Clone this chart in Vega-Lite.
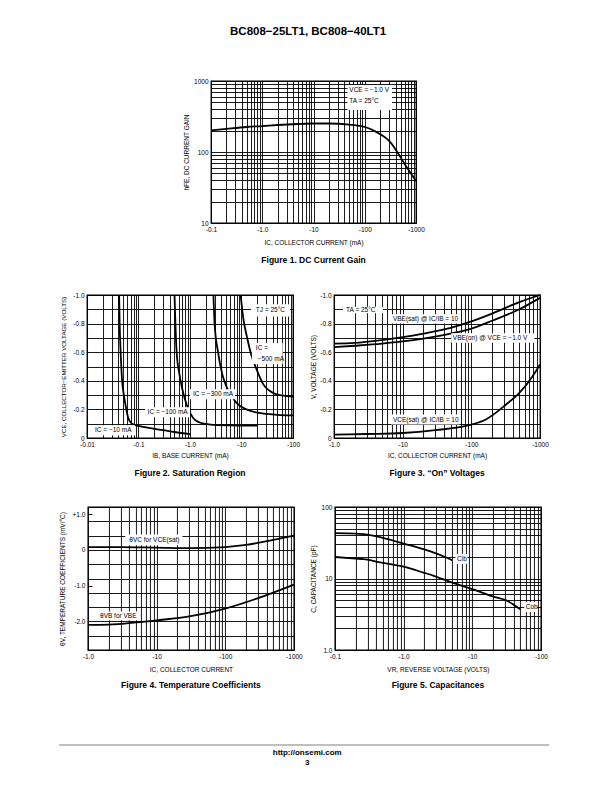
{
  "$schema": "https://vega.github.io/schema/vega-lite/v6.json",
  "background": "white",
  "padding": {"left": 58, "top": 25, "right": 5, "bottom": 5},
  "title": {"text": "BC808−25LT1, BC808−40LT1", "orient": "top", "fontSize": 11.5, "fontWeight": "bold", "font": "Liberation Sans", "anchor": "middle", "offset": 40, "dx": 4, "color": "#000"},
  "config": {
    "font": "Liberation Sans",
    "view": {"stroke": "#000", "strokeWidth": 1.3},
    "axis": {"grid": true, "gridColor": "#000", "gridWidth": 0.9, "gridOpacity": 1, "domain": false, "ticks": false, "tickCount": 60, "labelFont": "Liberation Sans", "labelFontSize": 6.5, "labelColor": "#000", "titleFont": "Liberation Sans", "titleFontSize": 6.5, "titleFontWeight": "normal", "titleColor": "#000", "labelPadding": 3, "labelOverlap": false, "labelSeparation": -40, "labelFlush": false, "labelBound": false},
    "axisX": {"titlePadding": 7},
    "axisY": {"titlePadding": 4},
    "title": {"fontSize": 8.5, "fontWeight": "bold", "font": "Liberation Sans", "color": "#000", "orient": "bottom", "anchor": "middle", "offset": 10},
    "line": {"color": "#000", "strokeWidth": 1.8, "interpolate": "monotone"}
  },
  "center": true,
  "spacing": 24,
  "vconcat": [
    {
      "width": 205, "height": 142,
      "title": {"text": "Figure 1. DC Current Gain"},
      "layer": [
        {
          "data": {"values": [
            {"ic": 0.1, "hfe": 202}, {"ic": 0.2, "hfe": 212}, {"ic": 0.5, "hfe": 225}, {"ic": 1, "hfe": 232},
            {"ic": 2, "hfe": 240}, {"ic": 5, "hfe": 248}, {"ic": 10, "hfe": 252}, {"ic": 20, "hfe": 252},
            {"ic": 50, "hfe": 243}, {"ic": 100, "hfe": 225}, {"ic": 150, "hfe": 200}, {"ic": 200, "hfe": 178},
            {"ic": 300, "hfe": 143}, {"ic": 500, "hfe": 84}, {"ic": 700, "hfe": 57}, {"ic": 1000, "hfe": 39}
          ]},
          "mark": "line",
          "encoding": {
            "x": {"field": "ic", "type": "quantitative", "scale": {"type": "log", "domain": [0.1, 1000], "nice": false},
              "axis": {"title": "IC, COLLECTOR CURRENT (mA)", "labelOverlap": false, "values": [0.1,0.2,0.3,0.4,0.5,0.6,0.7,0.8,0.9,1,2,3,4,5,6,7,8,9,10,20,30,40,50,60,70,80,90,100,200,300,400,500,600,700,800,900,1000],
                "labelExpr": "datum.value==0.1?'-0.1':datum.value==1?'-1.0':datum.value==10?'-10':datum.value==100?'-100':datum.value==1000?'-1000':''"}},
            "y": {"field": "hfe", "type": "quantitative", "scale": {"type": "log", "domain": [10, 1000], "nice": false},
              "axis": {"title": "hFE, DC CURRENT GAIN", "labelOverlap": false, "values": [10,20,30,40,50,60,70,80,90,100,200,300,400,500,600,700,800,900,1000],
                "labelExpr": "datum.value==10?'10':datum.value==100?'100':datum.value==1000?'1000':''"}}
          }
        },
        {
          "data": {"values": [{"x1": 46, "x2": 340, "y1": 880, "y2": 390}]},
          "mark": {"type": "rect", "fill": "#fff"},
          "encoding": {"x": {"field": "x1", "type": "quantitative"}, "x2": {"field": "x2"}, "y": {"field": "y1", "type": "quantitative"}, "y2": {"field": "y2"}}
        },
        {
          "data": {"values": [{"x": 50, "y": 740, "t": "VCE = −1.0 V"}, {"x": 50, "y": 520, "t": "TA = 25°C"}]},
          "mark": {"type": "text", "fill": "#000", "font": "Liberation Sans", "fontSize": 6.5, "align": "left", "baseline": "middle"},
          "encoding": {"x": {"field": "x", "type": "quantitative"}, "y": {"field": "y", "type": "quantitative"}, "text": {"field": "t"}}
        }
      ]
    },
    {
      "spacing": 41,
      "bounds": "flush",
      "hconcat": [
        {
          "width": 206, "height": 143,
          "title": {"text": "Figure 2. Saturation Region"},
          "layer": [
            {
              "data": {"values": [
                {"s": "a", "ib": 0.042, "v": 1.0}, {"s": "a", "ib": 0.043, "v": 0.8}, {"s": "a", "ib": 0.045, "v": 0.6}, {"s": "a", "ib": 0.048, "v": 0.4},
                {"s": "a", "ib": 0.052, "v": 0.3}, {"s": "a", "ib": 0.058, "v": 0.2}, {"s": "a", "ib": 0.062, "v": 0.15}, {"s": "a", "ib": 0.068, "v": 0.115},
                {"s": "a", "ib": 0.08, "v": 0.095}, {"s": "a", "ib": 0.1, "v": 0.085}, {"s": "a", "ib": 0.15, "v": 0.072}, {"s": "a", "ib": 0.3, "v": 0.055},
                {"s": "a", "ib": 0.5, "v": 0.042}, {"s": "a", "ib": 1.0, "v": 0.027},
                {"s": "b", "ib": 0.5, "v": 1.0}, {"s": "b", "ib": 0.52, "v": 0.8}, {"s": "b", "ib": 0.55, "v": 0.6}, {"s": "b", "ib": 0.62, "v": 0.45},
                {"s": "b", "ib": 0.7, "v": 0.35}, {"s": "b", "ib": 0.8, "v": 0.27}, {"s": "b", "ib": 0.93, "v": 0.2}, {"s": "b", "ib": 1.15, "v": 0.14},
                {"s": "b", "ib": 1.5, "v": 0.11}, {"s": "b", "ib": 2, "v": 0.098}, {"s": "b", "ib": 3.3, "v": 0.09}, {"s": "b", "ib": 10, "v": 0.087}, {"s": "b", "ib": 20, "v": 0.087},
                {"s": "c", "ib": 2.85, "v": 1.0}, {"s": "c", "ib": 3.0, "v": 0.8}, {"s": "c", "ib": 3.5, "v": 0.6}, {"s": "c", "ib": 4.2, "v": 0.45},
                {"s": "c", "ib": 5.1, "v": 0.36}, {"s": "c", "ib": 6.5, "v": 0.29}, {"s": "c", "ib": 8, "v": 0.245}, {"s": "c", "ib": 12.5, "v": 0.2},
                {"s": "c", "ib": 22, "v": 0.175}, {"s": "c", "ib": 50, "v": 0.162}, {"s": "c", "ib": 100, "v": 0.158},
                {"s": "d", "ib": 9.6, "v": 1.0}, {"s": "d", "ib": 11, "v": 0.82}, {"s": "d", "ib": 12.7, "v": 0.71}, {"s": "d", "ib": 15.5, "v": 0.58},
                {"s": "d", "ib": 19.6, "v": 0.48}, {"s": "d", "ib": 26, "v": 0.38}, {"s": "d", "ib": 41, "v": 0.315}, {"s": "d", "ib": 60, "v": 0.298}, {"s": "d", "ib": 100, "v": 0.29}
              ]},
              "mark": "line",
              "encoding": {
                "detail": {"field": "s"},
                "x": {"field": "ib", "type": "quantitative", "scale": {"type": "log", "domain": [0.01, 100], "nice": false},
                  "axis": {"title": "IB, BASE CURRENT (mA)", "titlePadding": 5, "labelOverlap": false, "values": [0.01,0.02,0.03,0.04,0.05,0.06,0.07,0.08,0.09,0.1,0.2,0.3,0.4,0.5,0.6,0.7,0.8,0.9,1,2,3,4,5,6,7,8,9,10,20,30,40,50,60,70,80,90,100],
                    "labelExpr": "datum.value==0.01?'-0.01':datum.value==0.1?'-0.1':datum.value==1?'-1.0':datum.value==10?'-10':datum.value==100?'-100':''"}},
                "y": {"field": "v", "type": "quantitative", "scale": {"domain": [0, 1], "nice": false, "zero": false},
                  "axis": {"title": "VCE, COLLECTOR−EMITTER VOLTAGE (VOLTS)", "titleFontSize": 6.2, "titlePadding": 6, "labelOverlap": false, "tickCount": 60, "values": [0,0.1,0.2,0.3,0.4,0.5,0.6,0.7,0.8,0.9,1],
                    "labelExpr": "datum.value==1?'-1.0':datum.value==0.8?'-0.8':datum.value==0.6?'-0.6':datum.value==0.4?'-0.4':datum.value==0.2?'-0.2':datum.value==0?'0':''"}}
              }
            },
            {
              "data": {"values": [
                {"x1": 15.3, "x2": 87, "y1": 0.935, "y2": 0.85},
                {"x1": 15.9, "x2": 63, "y1": 0.664, "y2": 0.517},
                {"x1": 1.0, "x2": 7.5, "y1": 0.341, "y2": 0.271},
                {"x1": 0.134, "x2": 1.0, "y1": 0.215, "y2": 0.145},
                {"x1": 0.0131, "x2": 0.0855, "y1": 0.089, "y2": 0.019}
              ]},
              "mark": {"type": "rect", "fill": "#fff"},
              "encoding": {"x": {"field": "x1", "type": "quantitative"}, "x2": {"field": "x2"}, "y": {"field": "y1", "type": "quantitative"}, "y2": {"field": "y2"}}
            },
            {
              "data": {"values": [
                {"x": 19, "y": 0.895, "t": "TJ = 25°C"},
                {"x": 19, "y": 0.63, "t": "IC ="},
                {"x": 20.7, "y": 0.553, "t": "−500 mA"},
                {"x": 1.14, "y": 0.306, "t": "IC = −300 mA"},
                {"x": 0.15, "y": 0.18, "t": "IC = −100 mA"},
                {"x": 0.0143, "y": 0.054, "t": "IC = −10 mA"}
              ]},
              "mark": {"type": "text", "fill": "#000", "font": "Liberation Sans", "fontSize": 6.5, "align": "left", "baseline": "middle"},
              "encoding": {"x": {"field": "x", "type": "quantitative"}, "y": {"field": "y", "type": "quantitative"}, "text": {"field": "t"}}
            }
          ]
        },
        {
          "width": 206, "height": 143,
          "title": {"text": "Figure 3. “On” Voltages"},
          "layer": [
            {
              "data": {"values": [
                {"s": "sat", "ic": 1, "v": 0.66}, {"s": "sat", "ic": 2, "v": 0.665}, {"s": "sat", "ic": 5, "v": 0.685}, {"s": "sat", "ic": 10, "v": 0.705},
                {"s": "sat", "ic": 20, "v": 0.73}, {"s": "sat", "ic": 50, "v": 0.77}, {"s": "sat", "ic": 100, "v": 0.815}, {"s": "sat", "ic": 200, "v": 0.87},
                {"s": "sat", "ic": 500, "v": 0.95}, {"s": "sat", "ic": 1000, "v": 1.0},
                {"s": "on", "ic": 1, "v": 0.635}, {"s": "on", "ic": 2, "v": 0.645}, {"s": "on", "ic": 5, "v": 0.66}, {"s": "on", "ic": 10, "v": 0.675},
                {"s": "on", "ic": 20, "v": 0.695}, {"s": "on", "ic": 50, "v": 0.73}, {"s": "on", "ic": 100, "v": 0.765}, {"s": "on", "ic": 200, "v": 0.82},
                {"s": "on", "ic": 500, "v": 0.9}, {"s": "on", "ic": 1000, "v": 0.98},
                {"s": "vce", "ic": 1, "v": 0.023}, {"s": "vce", "ic": 3, "v": 0.028}, {"s": "vce", "ic": 10, "v": 0.035}, {"s": "vce", "ic": 30, "v": 0.055},
                {"s": "vce", "ic": 100, "v": 0.093}, {"s": "vce", "ic": 160, "v": 0.128}, {"s": "vce", "ic": 320, "v": 0.234}, {"s": "vce", "ic": 500, "v": 0.315},
                {"s": "vce", "ic": 780, "v": 0.432}, {"s": "vce", "ic": 1000, "v": 0.514}
              ]},
              "mark": "line",
              "encoding": {
                "detail": {"field": "s"},
                "x": {"field": "ic", "type": "quantitative", "scale": {"type": "log", "domain": [1, 1000], "nice": false},
                  "axis": {"title": "IC, COLLECTOR CURRENT (mA)", "titlePadding": 5, "labelOverlap": false, "values": [1,2,3,4,5,6,7,8,9,10,20,30,40,50,60,70,80,90,100,200,300,400,500,600,700,800,900,1000],
                    "labelExpr": "datum.value==1?'-1.0':datum.value==10?'-10':datum.value==100?'-100':datum.value==1000?'-1000':''"}},
                "y": {"field": "v", "type": "quantitative", "scale": {"domain": [0, 1], "nice": false, "zero": false},
                  "axis": {"title": "V, VOLTAGE (VOLTS)", "titlePadding": 3, "labelOverlap": false, "tickCount": 60, "values": [0,0.1,0.2,0.3,0.4,0.5,0.6,0.7,0.8,0.9,1],
                    "labelExpr": "datum.value==1?'-1.0':datum.value==0.8?'-0.8':datum.value==0.6?'-0.6':datum.value==0.4?'-0.4':datum.value==0.2?'-0.2':datum.value==0?'0':''"}}
              }
            },
            {
              "data": {"values": [
                {"x1": 1.35, "x2": 5.15, "y1": 0.918, "y2": 0.872},
                {"x1": 6.8, "x2": 67, "y1": 0.865, "y2": 0.80},
                {"x1": 50.8, "x2": 826, "y1": 0.732, "y2": 0.666},
                {"x1": 6.8, "x2": 67, "y1": 0.164, "y2": 0.094}
              ]},
              "mark": {"type": "rect", "fill": "#fff"},
              "encoding": {"x": {"field": "x1", "type": "quantitative"}, "x2": {"field": "x2"}, "y": {"field": "y1", "type": "quantitative"}, "y2": {"field": "y2"}}
            },
            {
              "data": {"values": [
                {"x": 1.5, "y": 0.895, "t": "TA = 25°C"},
                {"x": 7.2, "y": 0.835, "t": "VBE(sat) @ IC/IB = 10"},
                {"x": 53.7, "y": 0.70, "t": "VBE(on) @ VCE = −1.0 V"},
                {"x": 7.2, "y": 0.129, "t": "VCE(sat) @ IC/IB = 10"}
              ]},
              "mark": {"type": "text", "fill": "#000", "font": "Liberation Sans", "fontSize": 6.5, "align": "left", "baseline": "middle"},
              "encoding": {"x": {"field": "x", "type": "quantitative"}, "y": {"field": "y", "type": "quantitative"}, "text": {"field": "t"}}
            }
          ]
        }
      ]
    },
    {
      "spacing": 41,
      "bounds": "flush",
      "hconcat": [
        {
          "width": 206, "height": 143,
          "title": {"text": "Figure 4. Temperature Coefficients", "offset": 8},
          "layer": [
            {
              "data": {"values": [
                {"s": "vc", "ic": 1, "v": 0.08}, {"s": "vc", "ic": 3, "v": 0.08}, {"s": "vc", "ic": 10, "v": 0.065}, {"s": "vc", "ic": 30, "v": 0.05},
                {"s": "vc", "ic": 100, "v": 0.08}, {"s": "vc", "ic": 200, "v": 0.14}, {"s": "vc", "ic": 500, "v": 0.28}, {"s": "vc", "ic": 1000, "v": 0.4},
                {"s": "vb", "ic": 1, "v": -2.1}, {"s": "vb", "ic": 2, "v": -2.09}, {"s": "vb", "ic": 5, "v": -2.03}, {"s": "vb", "ic": 10, "v": -1.97},
                {"s": "vb", "ic": 30, "v": -1.86}, {"s": "vb", "ic": 100, "v": -1.64}, {"s": "vb", "ic": 300, "v": -1.35}, {"s": "vb", "ic": 1000, "v": -0.97}
              ]},
              "mark": "line",
              "encoding": {
                "detail": {"field": "s"},
                "x": {"field": "ic", "type": "quantitative", "scale": {"type": "log", "domain": [1, 1000], "nice": false},
                  "axis": {"title": "IC, COLLECTOR CURRENT", "labelOverlap": false, "values": [1,2,3,4,5,6,7,8,9,10,20,30,40,50,60,70,80,90,100,200,300,400,500,600,700,800,900,1000],
                    "labelExpr": "datum.value==1?'-1.0':datum.value==10?'-10':datum.value==100?'-100':datum.value==1000?'-1000':''"}},
                "y": {"field": "v", "type": "quantitative", "scale": {"domain": [-2.8, 1.2], "nice": false, "zero": false},
                  "axis": {"title": "θV, TEMPERATURE COEFFICIENTS (mV/°C)", "titlePadding": 7, "labelOverlap": false, "tickCount": 60, "values": [-2.8,-2.4,-2,-1.6,-1.2,-1,-0.8,-0.4,0,0.4,0.8,1,1.2],
                    "labelExpr": "datum.value==1?'+1.0':datum.value==0?'0':datum.value==-1?'-1.0':datum.value==-2?'-2.0':''",
                    "gridOpacity": {"condition": {"test": "datum.value==1||datum.value==-1", "value": 0}, "value": 1},
                    "ticks": true, "tickSize": -4, "labelPadding": 7, "tickColor": "#000", "tickWidth": 1,
                    "tickOpacity": {"condition": {"test": "datum.value==1||datum.value==-1", "value": 1}, "value": 0}}}
              }
            },
            {
              "data": {"values": [
                {"x1": 3.5, "x2": 23.8, "y1": 0.433, "y2": 0.133},
                {"x1": 1.34, "x2": 5.25, "y1": -1.72, "y2": -1.97}
              ]},
              "mark": {"type": "rect", "fill": "#fff"},
              "encoding": {"x": {"field": "x1", "type": "quantitative"}, "x2": {"field": "x2"}, "y": {"field": "y1", "type": "quantitative"}, "y2": {"field": "y2"}}
            },
            {
              "data": {"values": [
                {"x": 4.0, "y": 0.27, "t": "θVC for VCE(sat)"},
                {"x": 1.5, "y": -1.84, "t": "θVB for VBE"}
              ]},
              "mark": {"type": "text", "fill": "#000", "font": "Liberation Sans", "fontSize": 6.5, "align": "left", "baseline": "middle"},
              "encoding": {"x": {"field": "x", "type": "quantitative"}, "y": {"field": "y", "type": "quantitative"}, "text": {"field": "t"}}
            }
          ]
        },
        {
          "width": 206, "height": 143,
          "title": {"text": "Figure 5. Capacitances", "offset": 8},
          "layer": [
            {
              "data": {"values": [
                {"s": "cib", "vr": 0.1, "c": 43}, {"s": "cib", "vr": 0.2, "c": 42.5}, {"s": "cib", "vr": 0.26, "c": 41.7}, {"s": "cib", "vr": 0.5, "c": 37},
                {"s": "cib", "vr": 1.0, "c": 30.8}, {"s": "cib", "vr": 2, "c": 25.5}, {"s": "cib", "vr": 2.76, "c": 23}, {"s": "cib", "vr": 4, "c": 20}, {"s": "cib", "vr": 5.1, "c": 18},
                {"s": "cob", "vr": 0.1, "c": 20}, {"s": "cob", "vr": 0.2, "c": 19}, {"s": "cob", "vr": 0.26, "c": 18.6}, {"s": "cob", "vr": 0.5, "c": 16.5},
                {"s": "cob", "vr": 1, "c": 14.6}, {"s": "cob", "vr": 2, "c": 12}, {"s": "cob", "vr": 2.76, "c": 10.9}, {"s": "cob", "vr": 5, "c": 8.8},
                {"s": "cob", "vr": 10, "c": 7.1}, {"s": "cob", "vr": 20, "c": 5.6}, {"s": "cob", "vr": 32, "c": 4.9}, {"s": "cob", "vr": 50, "c": 3.7}
              ]},
              "mark": "line",
              "encoding": {
                "detail": {"field": "s"},
                "x": {"field": "vr", "type": "quantitative", "scale": {"type": "log", "domain": [0.1, 100], "nice": false},
                  "axis": {"title": "VR, REVERSE VOLTAGE (VOLTS)", "labelOverlap": false, "values": [0.1,0.2,0.3,0.4,0.5,0.6,0.7,0.8,0.9,1,2,3,4,5,6,7,8,9,10,20,30,40,50,60,70,80,90,100],
                    "labelExpr": "datum.value==0.1?'-0.1':datum.value==1?'-1.0':datum.value==10?'-10':datum.value==100?'-100':''"}},
                "y": {"field": "c", "type": "quantitative", "scale": {"type": "log", "domain": [1, 100], "nice": false},
                  "axis": {"title": "C, CAPACITANCE (pF)", "titlePadding": 5, "labelOverlap": false, "values": [1,2,3,4,5,6,7,8,9,10,20,30,40,50,60,70,80,90,100],
                    "labelExpr": "datum.value==1?'1.0':datum.value==10?'10':datum.value==100?'100':''"}}
              }
            },
            {
              "data": {"values": [
                {"x1": 5.7, "x2": 8.5, "y1": 22, "y2": 16},
                {"x1": 57, "x2": 88, "y1": 4.7, "y2": 3.4}
              ]},
              "mark": {"type": "rect", "fill": "#fff"},
              "encoding": {"x": {"field": "x1", "type": "quantitative"}, "x2": {"field": "x2"}, "y": {"field": "y1", "type": "quantitative"}, "y2": {"field": "y2"}}
            },
            {
              "data": {"values": [
                {"x": 6.0, "y": 18.5, "t": "Cib"},
                {"x": 60, "y": 4.0, "t": "Cob"}
              ]},
              "mark": {"type": "text", "fill": "#000", "font": "Liberation Sans", "fontSize": 6.5, "align": "left", "baseline": "middle"},
              "encoding": {"x": {"field": "x", "type": "quantitative"}, "y": {"field": "y", "type": "quantitative"}, "text": {"field": "t"}}
            }
          ]
        }
      ]
    },
    {
      "width": 454, "height": 50,
      "view": {"stroke": null, "fill": "#fff"},
      "layer": [
        {
          "data": {"values": [{"a": -0.0595, "b": 1.02, "y": 0.6}]},
          "mark": {"type": "rule", "color": "#aaaaaa", "strokeWidth": 1.5},
          "encoding": {"x": {"field": "a", "type": "quantitative", "scale": {"domain": [0, 1]}, "axis": null}, "x2": {"field": "b"}, "y": {"field": "y", "type": "quantitative", "scale": {"domain": [0, 1], "reverse": true}, "axis": null}}
        },
        {
          "data": {"values": [{"x": 0.487, "y": 0.76, "t": "http://onsemi.com"}, {"x": 0.487, "y": 0.96, "t": "3"}]},
          "mark": {"type": "text", "align": "center", "baseline": "middle", "fill": "#000", "font": "Liberation Sans", "fontWeight": "bold", "fontSize": 8},
          "encoding": {"x": {"field": "x", "type": "quantitative", "axis": null}, "y": {"field": "y", "type": "quantitative", "axis": null}, "text": {"field": "t"}}
        }
      ]
    }
  ]
}
